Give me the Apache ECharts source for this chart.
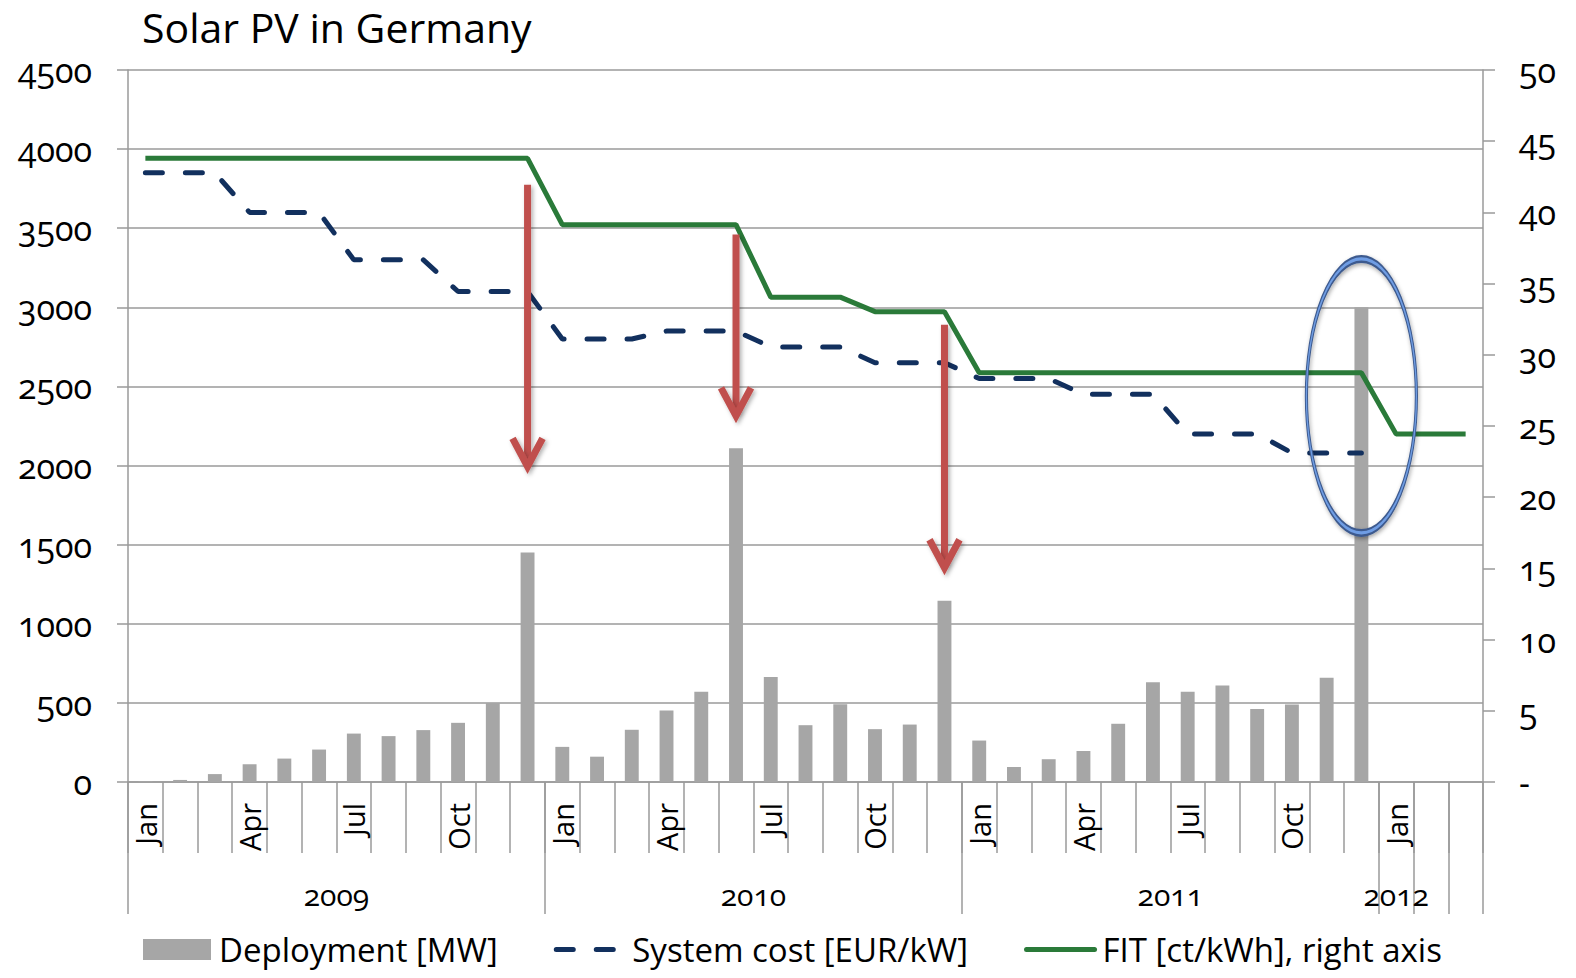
<!DOCTYPE html>
<html>
<head>
<meta charset="utf-8">
<title>Solar PV in Germany</title>
<script src="https://cdn.jsdelivr.net/npm/echarts@6/dist/echarts.min.js"></script>
<style>
  html, body { margin: 0; padding: 0; background: #ffffff; }
  #chart { width: 1576px; height: 978px; }
  /* humanist old-style figures for the axis numbers */
  #chart text { font-variant-numeric: oldstyle-nums !important; font-feature-settings: "onum" 1 !important; }
</style>
</head>
<body>
<div id="chart"></div>
<script>
// ---- data ---------------------------------------------------------------
const monthNames = ['Jan', 'Feb', 'Mar', 'Apr', 'May', 'Jun', 'Jul', 'Aug', 'Sep', 'Oct', 'Nov', 'Dec'];
// year groups on the lower category row (label, number of months)
const yearGroups = [['2009', 12], ['2010', 12], ['2011', 12], ['2012', 1], ['', 1], ['', 1]];
const firstYear = 2009;

// monthly new PV capacity, MW (Jan 2009 .. Dec 2011)
const deployment = [
  5, 13, 50, 112, 148, 205, 306, 290, 328, 374, 500, 1450,
  222, 160, 330, 452, 570, 2110, 663, 359, 492, 334, 363, 1145,
  262, 95, 144, 196, 368, 630, 570, 610, 461, 490, 659, 3000
];
// average system price, EUR/kW (Jan 2009 .. Dec 2011)
const systemCost = [
  3850, 3850, 3850, 3600, 3600, 3600, 3300, 3300, 3300, 3100, 3100, 3100,
  2800, 2800, 2800, 2850, 2850, 2850, 2750, 2750, 2750, 2650, 2650, 2650,
  2550, 2550, 2550, 2450, 2450, 2450, 2200, 2200, 2200, 2080, 2080, 2080
];
// feed-in tariff, ct/kWh (Jan 2009 .. Mar 2012)
const fitRate = [
  43.8, 43.8, 43.8, 43.8, 43.8, 43.8, 43.8, 43.8, 43.8, 43.8, 43.8, 43.8,
  39.14, 39.14, 39.14, 39.14, 39.14, 39.14, 34.05, 34.05, 34.05, 33.03, 33.03, 33.03,
  28.74, 28.74, 28.74, 28.74, 28.74, 28.74, 28.74, 28.74, 28.74, 28.74, 28.74, 28.74,
  24.43, 24.43, 24.43
];
const leftAxisTicks = [0, 500, 1000, 1500, 2000, 2500, 3000, 3500, 4000, 4500];
const rightAxisTicks = [0, 5, 10, 15, 20, 25, 30, 35, 40, 45, 50];

// annotations: tariff cuts (month, arrow start, arrow tip in MW)
const cutMonths = ['Dec 2009', 'Jun 2010', 'Dec 2010'];
const cutFrom = [3775, 3460, 2890];
const cutTo = [1950, 2270, 1310];
// highlighted month (ellipse around the Dec 2011 spike), centre in MW
const highlightMonth = 'Dec 2011';
const highlightCentre = 2440;

// ---- derived ------------------------------------------------------------
const categories = [];
yearGroups.forEach(function (g) {
  for (let k = 0; k < g[1]; k++) {
    const n = categories.length;
    categories.push(monthNames[n % 12] + ' ' + (firstYear + Math.floor(n / 12)));
  }
});
const groupStarts = [];
const groupLabelAt = {};
(function () {
  let s = 0;
  yearGroups.forEach(function (g) {
    groupStarts.push(s);
    const span = g[1];
    if (span % 2 === 0) groupLabelAt[s + span / 2 - 1] = { text: g[0], half: true };
    else groupLabelAt[s + (span - 1) / 2] = { text: g[0], half: false };
    s += span;
  });
})();
const arrows = cutMonths.map(function (m, i) { return [m, cutFrom[i], cutTo[i]]; });

// ---- layout / style -----------------------------------------------------
const W = 1576, H = 978;
const gridLeft = 128, gridRight = 93, gridTop = 70, gridBottom = 196;
const bandWidth = (W - gridLeft - gridRight) / categories.length;
const FONT = '"Open Sans", "Noto Sans", sans-serif';
const axisGrey = '#9a9a9a';
const costBlue = '#12305e';
const fitGreen = '#2a7a39';
const cutRed = '#c0504d';
const ellipsePath = 'path://M0,50A50,50,0,1,1,100,50A50,50,0,1,1,0,50Z';
const costDash = [17, 23];

const chart = echarts.init(document.getElementById('chart'), null, { renderer: 'svg' });

chart.setOption({
  backgroundColor: '#ffffff',
  animation: false,
  textStyle: { fontFamily: FONT, color: '#000' },
  title: {
    text: 'Solar PV in Germany',
    left: 137,
    top: 1,
    textStyle: { fontFamily: FONT, fontSize: 41, fontWeight: 'normal', color: '#000' }
  },
  legend: {
    data: [
      { name: 'Deployment [MW]', icon: 'rect' },
      {
        name: 'System cost [EUR/kW]',
        itemStyle: { opacity: 0 },
        lineStyle: { color: costBlue, width: 5, type: costDash, cap: 'round' }
      },
      {
        name: 'FIT [ct/kWh], right axis',
        itemStyle: { opacity: 0 },
        lineStyle: { color: fitGreen, width: 5, type: 'solid', cap: 'round' }
      }
    ],
    left: 138,
    top: 928,
    itemWidth: 68,
    itemHeight: 21,
    itemGap: 56,
    selectedMode: false,
    textStyle: { fontFamily: FONT, fontSize: 33, color: '#000', padding: [0, 0, 0, 3] }
  },
  grid: { left: gridLeft, right: gridRight, top: gridTop, bottom: gridBottom, containLabel: false },
  xAxis: [
    {
      type: 'category',
      data: categories,
      position: 'bottom',
      boundaryGap: true,
      axisLine: { show: true, lineStyle: { color: axisGrey, width: 1.5 } },
      axisTick: { show: true, interval: 0, length: 71, lineStyle: { color: axisGrey, width: 1.5 } },
      axisLabel: {
        interval: 0,
        rotate: 90,
        margin: 21,
        fontFamily: FONT,
        fontSize: 29,
        color: '#000',
        formatter: function (v, i) { return i % 3 === 0 ? monthNames[i % 12] : ''; }
      },
      splitLine: { show: false }
    },
    {
      type: 'category',
      data: categories,
      position: 'bottom',
      boundaryGap: true,
      axisLine: { show: false },
      axisTick: {
        show: true,
        length: 132,
        interval: function (i) { return groupStarts.indexOf(i) !== -1; },
        lineStyle: { color: axisGrey, width: 1.5 }
      },
      axisLabel: {
        interval: 0,
        margin: 97,
        fontFamily: FONT,
        fontSize: 30,
        color: '#000',
        formatter: function (v, i) {
          const g = groupLabelAt[i];
          if (!g || !g.text) return '';
          return g.half ? '{half|' + g.text + '}' : '{full|' + g.text + '}';
        },
        rich: {
          half: { fontFamily: FONT, fontSize: 30, color: '#000', padding: [0, 0, 0, bandWidth] },
          full: { fontFamily: FONT, fontSize: 30, color: '#000' }
        }
      },
      splitLine: { show: false }
    }
  ],
  yAxis: [
    {
      type: 'value',
      min: leftAxisTicks[0],
      max: leftAxisTicks[leftAxisTicks.length - 1],
      interval: leftAxisTicks[1] - leftAxisTicks[0],
      position: 'left',
      axisLine: { show: true, lineStyle: { color: axisGrey, width: 1.5 } },
      axisTick: { show: true, length: 11, lineStyle: { color: axisGrey, width: 1.5 } },
      axisLabel: {
        margin: 36,
        fontFamily: FONT,
        fontSize: 34,
        color: '#000',
        formatter: function (v) { return String(v); }
      },
      splitLine: { show: true, lineStyle: { color: axisGrey, width: 1.5 } }
    },
    {
      type: 'value',
      min: rightAxisTicks[0],
      max: rightAxisTicks[rightAxisTicks.length - 1],
      interval: rightAxisTicks[1] - rightAxisTicks[0],
      position: 'right',
      axisLine: { show: true, lineStyle: { color: axisGrey, width: 1.5 } },
      axisTick: { show: true, length: 12, lineStyle: { color: axisGrey, width: 1.5 } },
      axisLabel: {
        margin: 36,
        fontFamily: FONT,
        fontSize: 34,
        color: '#000',
        formatter: function (v) { return v === 0 ? '-' : String(v); }
      },
      splitLine: { show: false }
    }
  ],
  series: [
    {
      name: 'Deployment [MW]',
      type: 'bar',
      xAxisIndex: 0,
      yAxisIndex: 0,
      data: deployment,
      barWidth: '40%',
      itemStyle: { color: '#a6a6a6' },
      z: 2,
      markPoint: {
        silent: true,
        z: 12,
        label: { show: false },
        data: [
          {
            coord: [highlightMonth, highlightCentre],
            symbol: ellipsePath,
            symbolSize: [110, 274],
            itemStyle: {
              color: 'rgba(0,0,0,0)',
              borderColor: '#3d5a8e',
              borderWidth: 5,
              shadowBlur: 4,
              shadowColor: 'rgba(0,0,0,0.35)',
              shadowOffsetX: 1,
              shadowOffsetY: 2
            }
          },
          {
            coord: [highlightMonth, highlightCentre],
            symbol: ellipsePath,
            symbolSize: [110, 274],
            itemStyle: { color: 'rgba(0,0,0,0)', borderColor: '#6f9de4', borderWidth: 2 }
          }
        ]
      }
    },
    {
      name: 'System cost [EUR/kW]',
      type: 'line',
      xAxisIndex: 0,
      yAxisIndex: 0,
      data: systemCost,
      symbol: 'none',
      z: 4,
      lineStyle: { color: costBlue, width: 5, type: costDash, cap: 'round' },
      itemStyle: { color: 'rgba(0,0,0,0)' }
    },
    {
      name: 'FIT [ct/kWh], right axis',
      type: 'line',
      xAxisIndex: 0,
      yAxisIndex: 1,
      data: fitRate,
      symbol: 'none',
      z: 5,
      lineStyle: { color: fitGreen, width: 5 },
      itemStyle: { color: 'rgba(0,0,0,0)' }
    },
    {
      name: 'tariff cuts',
      type: 'custom',
      xAxisIndex: 0,
      yAxisIndex: 0,
      data: arrows,
      encode: { x: 0, y: [1, 2] },
      silent: true,
      clip: false,
      z: 10,
      renderItem: function (params, api) {
        const x = api.value(0);
        const top = api.coord([x, api.value(1)]);
        const tip = api.coord([x, api.value(2)]);
        const vx = tip[0], vy = tip[1] - 7;
        const shaftW = 7;
        const shadow = {
          shadowBlur: 4,
          shadowColor: 'rgba(0,0,0,0.3)',
          shadowOffsetX: 2,
          shadowOffsetY: 2
        };
        return {
          type: 'group',
          children: [
            {
              // shaft
              type: 'rect',
              shape: { x: top[0] - shaftW / 2, y: top[1], width: shaftW, height: vy - 2 - top[1] },
              style: Object.assign({ fill: cutRed }, shadow)
            },
            {
              // open head
              type: 'polyline',
              shape: { points: [[vx - 15, vy - 28], [vx, vy], [vx + 15, vy - 28]] },
              style: Object.assign({ stroke: cutRed, lineWidth: 7, fill: null, lineJoin: 'miter' }, shadow)
            }
          ]
        };
      }
    }
  ]
});
</script>
</body>
</html>
